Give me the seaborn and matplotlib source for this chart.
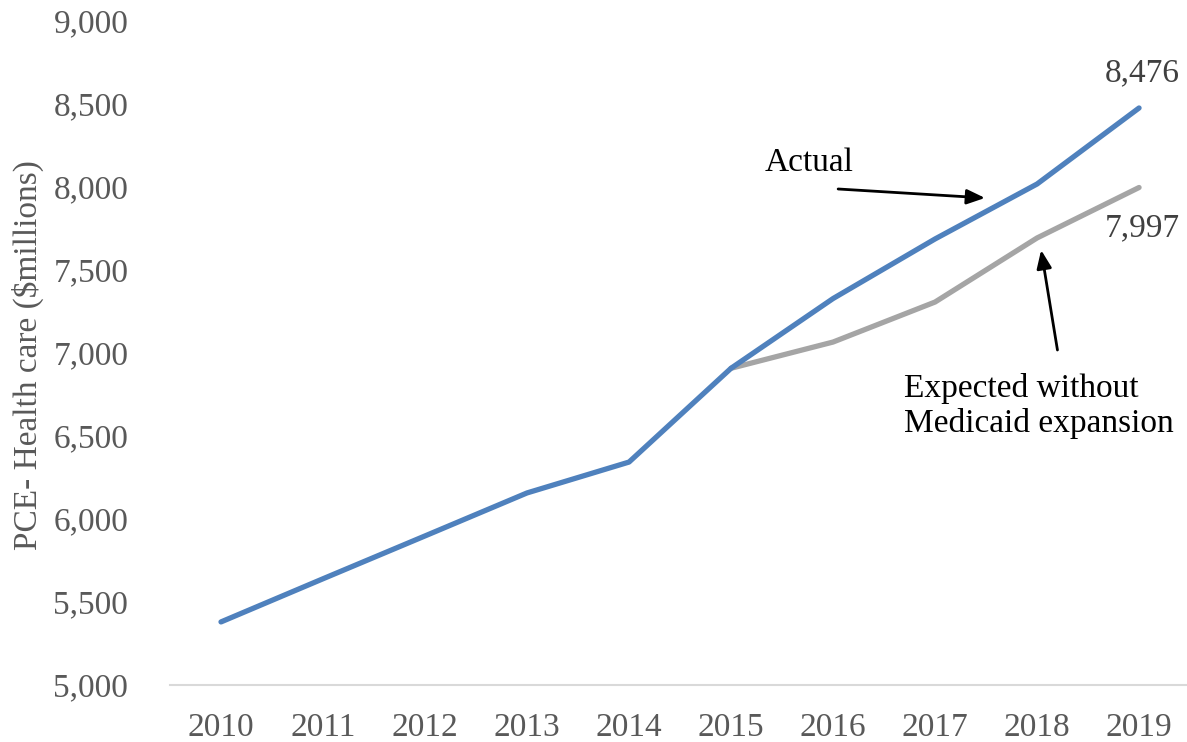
import pandas as pd
import seaborn as sns
import matplotlib.pyplot as plt

years = [2010, 2011, 2012, 2013, 2014, 2015, 2016, 2017, 2018, 2019]
actual = [5380, 5640, 5898, 6157, 6343, 6908, 7328, 7687, 8018, 8476]
expected_years = [2015, 2016, 2017, 2018, 2019]
expected = [6908, 7066, 7307, 7693, 7997]
y_ticks = [5000, 5500, 6000, 6500, 7000, 7500, 8000, 8500, 9000]

df_actual = pd.DataFrame({"Year": years, "Value": actual})
df_expected = pd.DataFrame({"Year": expected_years, "Value": expected})

sns.set_style("white")
plt.rcParams['font.family'] = ['Liberation Serif', 'DejaVu Serif']

fig = plt.figure(figsize=(11.87, 7.42), dpi=100)
ax = fig.add_axes([170 / 1187, 1 - 685 / 742, 1 - 170 / 1187, (685 - 21) / 742])

sns.lineplot(data=df_expected, x="Year", y="Value", ax=ax, color="#A5A5A5", linewidth=3.8,
             solid_capstyle="round")
sns.lineplot(data=df_actual, x="Year", y="Value", ax=ax, color="#4F81BD", linewidth=3.8,
             solid_capstyle="round")

ax.set_xlim(2009.5, 2019.47)
ax.set_ylim(5000, 9000)
ax.set_xticks(years)
ax.set_xticklabels([str(y) for y in years])
ax.set_yticks(y_ticks)
ax.set_yticklabels([f"{v:,}" for v in y_ticks])
ax.tick_params(axis="both", length=0, labelsize=24, labelcolor="#595959")
ax.tick_params(axis="y", pad=30)
ax.tick_params(axis="x", pad=20)
ax.set_xlabel("")
ax.set_ylabel(r"PCE- Health care (\$millions)", fontsize=24, color="#595959", va="center")
ax.yaxis.set_label_coords(-142 / 1017, 0.497)

for side in ["top", "right", "left"]:
    ax.spines[side].set_visible(False)
ax.spines["bottom"].set_color("#D9D9D9")
ax.spines["bottom"].set_linewidth(1.5)

# end labels
ax.text(years[-1] + 0.03, actual[-1] + 211, f"{actual[-1]:,}", fontsize=24, color="#404040",
        ha="center", va="center")
ax.text(years[-1] + 0.03, expected[-1] - 244, f"{expected[-1]:,}", fontsize=24, color="#404040",
        ha="center", va="center")

# annotations
arrow = dict(arrowstyle="-|>,head_length=1.1,head_width=0.45", color="black", lw=2,
             shrinkA=0, shrinkB=0)
ax.annotate("", xy=(2017.49, 7934), xytext=(2016.05, 7988), arrowprops=arrow)
ax.text(2015.33, 8145, "Actual", fontsize=24, color="black", ha="left", va="center")
ax.annotate("", xy=(2018.04, 7620), xytext=(2018.2, 7018), arrowprops=arrow)
ax.text(2016.7, 6681, "Expected without\nMedicaid expansion", fontsize=24, color="black",
        ha="left", va="center", linespacing=1.18)

plt.savefig("out.png", dpi=100)
